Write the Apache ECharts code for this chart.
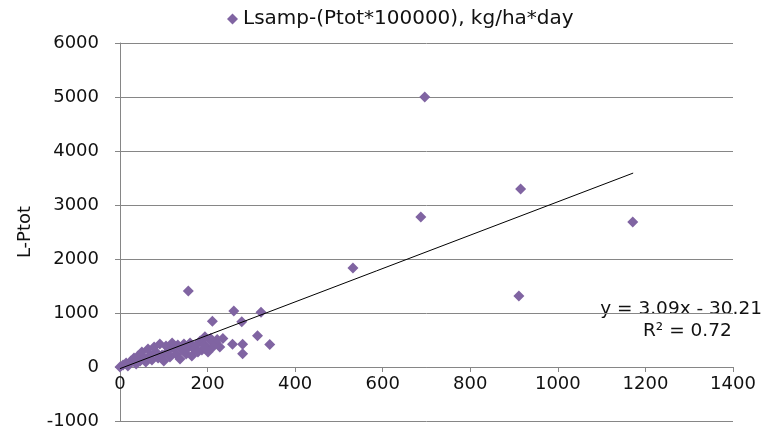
<!DOCTYPE html>
<html>
<head>
<meta charset="utf-8">
<script src="https://cdn.jsdelivr.net/npm/echarts@6/dist/echarts.min.js"></script>
<style>
  html, body { margin: 0; padding: 0; background: #fff; }
  #main { width: 763px; height: 433px; }
</style>
</head>
<body>
<div id="main"></div>
<script>
var seriesName = 'Lsamp-(Ptot*100000), kg/ha*day';

// Ptot (x) values
var ptot = [
    0, 7, 14, 18, 25, 32, 37, 41, 46, 50, 55, 59, 64, 69, 73, 78, 82, 87, 91, 96,
    100, 105, 110, 114, 119, 123, 128, 132, 137, 142, 146, 151, 155, 160, 164, 169,
    174, 178, 183, 187, 194, 201, 206, 212, 219, 228,
    156, 260, 322, 211, 278, 314, 342, 280, 280, 257, 235, 222, 207, 194, 194,
    532, 687, 696, 915, 911, 1171
];
// L-Ptot (y) values
var lptot = [
    0, 37, 74, 19, 111, 167, 56, 204, 111, 278, 167, 93, 333, 222, 130, 370, 278, 167, 426, 222,
    111, 389, 296, 185, 444, 352, 241, 407, 148, 315, 426, 241, 352, 444, 204, 333,
    407, 278, 481, 315, 407, 278, 500, 370, 444, 370,
    1407, 1037, 1013, 846, 839, 580, 415, 420, 245, 420, 530, 510, 530, 560, 346,
    1833, 2778, 5000, 3296, 1315, 2685
];

// linear trend shown on the chart
var slope = 3.09;
var intercept = -30.21;
var trendX = [0, 1172];
var eqText = 'y = 3.09x - 30.21';
var r2Text = 'R² = 0.72';

var xTicks = { min: 0, max: 1400, interval: 200 };
var yTicks = { min: -1000, max: 6000, interval: 1000 };

var points = ptot.map(function (x, i) { return [x, lptot[i]]; });
var trend = trendX.map(function (x) { return [x, slope * x + intercept]; });

var font = 'DejaVu Sans';
var plain = function (v) { return String(v); };

var gridTop = 43, gridBottom = 12, chartH = 433;
// lift the x axis up to y = 0
var plotH = chartH - gridTop - gridBottom;
var zeroOffset = -(0 - yTicks.min) / (yTicks.max - yTicks.min) * plotH;

var dom = document.getElementById('main');
var myChart = echarts.init(dom);

var option = {
    animation: false,
    textStyle: { fontFamily: font },
    legend: {
        data: [seriesName],
        top: 4,
        left: 222,
        icon: 'diamond',
        itemWidth: 11,
        itemHeight: 11,
        itemGap: 7,
        textStyle: { fontSize: 20, color: '#111', fontFamily: font }
    },
    grid: { left: 120, right: 30, top: gridTop, bottom: gridBottom, containLabel: false, outerBoundsMode: 'none' },
    xAxis: {
        type: 'value',
        position: 'bottom',
        offset: zeroOffset,
        min: xTicks.min, max: xTicks.max, interval: xTicks.interval,
        axisLine: { onZero: false, lineStyle: { color: '#868686' } },
        axisTick: { show: true, length: 5, lineStyle: { color: '#868686' } },
        axisLabel: { fontSize: 18, color: '#111', margin: 8, formatter: plain },
        splitLine: { show: false }
    },
    yAxis: {
        type: 'value',
        min: yTicks.min, max: yTicks.max, interval: yTicks.interval,
        name: 'L-Ptot',
        nameLocation: 'middle',
        nameGap: 86,
        nameTextStyle: { fontSize: 18, color: '#111' },
        axisLine: { show: true, onZero: false, lineStyle: { color: '#868686' } },
        axisTick: { show: true, length: 5, lineStyle: { color: '#868686' } },
        axisLabel: { fontSize: 18, color: '#111', margin: 21, formatter: plain },
        splitLine: { show: true, lineStyle: { color: '#868686', width: 1 } }
    },
    series: [
        {
            name: seriesName,
            type: 'scatter',
            symbol: 'diamond',
            symbolSize: 11,
            itemStyle: { color: '#8064A2', opacity: 1 },
            data: points,
            z: 2
        },
        {
            name: 'trend',
            type: 'line',
            data: trend,
            symbol: 'none',
            lineStyle: { color: '#000', width: 1 },
            silent: true,
            z: 3
        }
    ],
    graphic: [
        {
            type: 'text', right: 1, top: 300,
            style: { text: eqText, font: '18.5px "DejaVu Sans"', fill: '#111' }
        },
        {
            type: 'text', left: 643, top: 322,
            style: { text: r2Text, font: '18.5px "DejaVu Sans"', fill: '#111' }
        }
    ]
};

if (option && typeof option === 'object') {
    myChart.setOption(option, true);
}
</script>
</body>
</html>
